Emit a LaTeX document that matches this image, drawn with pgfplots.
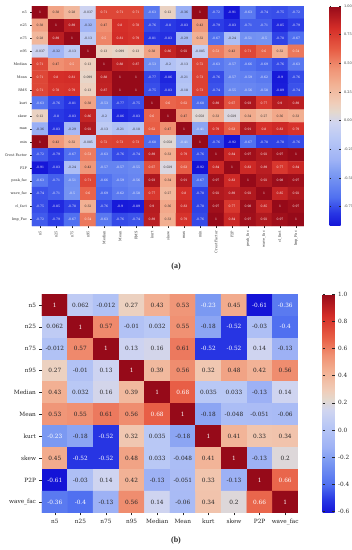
\documentclass[border=0pt]{standalone}
\usepackage{pgfplots}
\pgfplotsset{compat=1.18}
\usepackage{fontspec}
\setmainfont{DejaVu Serif}
\newfontfamily\capfont{Liberation Serif}
\definecolor{darktxt}{HTML}{262626}
\pgfplotsset{
  /pgf/number format/assume math mode=true,
  colormap={cw}{rgb255(0pt)=(20,20,215); rgb255(6pt)=(40,55,228); rgb255(13pt)=(80,112,240); rgb255(24pt)=(125,155,242); rgb255(30pt)=(158,178,245); rgb255(40pt)=(185,200,245); rgb255(47pt)=(208,213,240); rgb255(52pt)=(228,216,205); rgb255(56pt)=(240,205,185); rgb255(65pt)=(242,175,145); rgb255(72pt)=(240,145,115); rgb255(80pt)=(232,95,70); rgb255(90pt)=(212,45,40); rgb255(100pt)=(150,10,25)},
}
\begin{document}
\begin{tikzpicture}
\useasboundingbox (0,0) rectangle (352pt,550pt);
% ---------------- (a) ----------------
\begin{axis}[
  at={(32pt,544pt)}, anchor=north west, scale only axis,
  width=272pt, height=220pt,
  xmin=-0.5, xmax=16.5, ymin=-0.5, ymax=16.5, y dir=reverse,
  xtick={0,...,16}, ytick={0,...,16},
  xticklabels={n5,n25,n75,n95,Median,Mean,RMS,kurt,skew,max,min,Crest Factor,P2P,peak\_fac,wave\_fac,cl\_fact,Imp\_Fac},
  yticklabels={n5,n25,n75,n95,Median,Mean,RMS,kurt,skew,max,min,Crest Factor,P2P,peak\_fac,wave\_fac,cl\_fact,Imp\_Fac},
  axis line style={draw=none}, tick align=outside, tick pos=left,
  major tick length=1.5pt, tick style={darktxt, line width=0.3pt},
  ticklabel style={font=\fontsize{3.5}{4}\selectfont, text=darktxt},
  x tick label style={rotate=90, anchor=east},
  colormap name=cw, point meta min=-0.92, point meta max=1,
  colorbar,
  colorbar style={at={(parent axis.north east)}, anchor=north west, xshift=17pt, width=11pt,
    ytick={-0.75,-0.5,-0.25,0,0.25,0.5,0.75,1},
    axis line style={draw=none}, major tick length=1.5pt, tick style={darktxt, line width=0.3pt},
    yticklabel style={font=\fontsize{3.5}{4}\selectfont, text=darktxt, /pgf/number format/.cd, fixed, fixed zerofill, precision=2}},
]
\addplot[matrix plot*, mesh/cols=17, point meta=explicit,
  visualization depends on={value \thisrow{c} \as \cval},
  nodes near coords={\ifdim\cval pt>0.48pt\color{white}\else\ifdim\cval pt<-0.405pt\color{white}\else\color{darktxt}\fi\fi\pgfmathprintnumber[fixed,precision=3]{\cval}},
  every node near coord/.append style={anchor=center, inner sep=0pt, font=\fontsize{3.1}{4}\selectfont},
] table[row sep=\\, x expr={\coordindex-17*floor((\coordindex+0.5)/17)}, y expr={floor((\coordindex+0.5)/17)}, meta=c]{
c\\
1\\0.38\\0.28\\-0.037\\0.71\\0.71\\0.71\\-0.63\\0.12\\-0.36\\1\\-0.72\\-0.91\\-0.63\\-0.74\\-0.75\\-0.72\\
0.38\\1\\0.89\\-0.32\\0.47\\0.8\\0.78\\-0.76\\-0.8\\-0.83\\0.43\\-0.79\\-0.83\\-0.71\\-0.71\\-0.85\\-0.79\\
0.28\\0.89\\1\\-0.13\\0.5\\0.81\\0.79\\-0.81\\-0.83\\-0.29\\0.32\\-0.67\\-0.24\\-0.51\\-0.5\\-0.78\\-0.67\\
-0.037\\-0.32\\-0.13\\1\\0.13\\0.099\\0.13\\0.38\\0.86\\0.92\\-0.085\\0.53\\0.43\\0.71\\0.6\\0.32\\0.54\\
0.71\\0.47\\0.5\\0.13\\1\\0.88\\0.87\\-0.53\\-0.2\\-0.13\\0.72\\-0.63\\-0.57\\-0.66\\-0.69\\-0.76\\-0.63\\
0.71\\0.8\\0.81\\0.099\\0.88\\1\\1\\-0.77\\-0.86\\-0.21\\0.73\\-0.76\\-0.57\\-0.59\\-0.62\\-0.9\\-0.76\\
0.71\\0.78\\0.79\\0.13\\0.87\\1\\1\\-0.75\\-0.83\\-0.18\\0.73\\-0.74\\-0.55\\-0.56\\-0.58\\-0.89\\-0.74\\
-0.63\\-0.76\\-0.81\\0.38\\-0.53\\-0.77\\-0.75\\1\\0.6\\0.62\\-0.68\\0.89\\0.67\\0.93\\0.77\\0.9\\0.89\\
0.12\\-0.8\\-0.83\\0.86\\-0.2\\-0.86\\-0.83\\0.6\\1\\0.47\\0.058\\0.33\\0.029\\0.34\\0.27\\0.36\\0.33\\
-0.36\\-0.83\\-0.29\\0.92\\-0.13\\-0.21\\-0.18\\0.62\\0.47\\1\\-0.41\\0.79\\0.63\\0.91\\0.8\\0.83\\0.79\\
1\\0.43\\0.32\\-0.085\\0.72\\0.73\\0.73\\-0.68\\0.058\\-0.41\\1\\-0.76\\-0.92\\-0.67\\-0.78\\-0.78\\-0.76\\
-0.72\\-0.79\\-0.67\\0.53\\-0.63\\-0.76\\-0.74\\0.89\\0.33\\0.79\\-0.76\\1\\0.84\\0.97\\0.92\\0.97\\1\\
-0.91\\-0.83\\-0.24\\0.43\\-0.57\\-0.57\\-0.55\\0.67\\0.029\\0.63\\-0.92\\0.84\\1\\0.83\\0.89\\0.77\\0.84\\
-0.63\\-0.71\\-0.51\\0.71\\-0.66\\-0.59\\-0.56\\0.93\\0.34\\0.91\\-0.67\\0.97\\0.83\\1\\0.92\\0.98\\0.97\\
-0.74\\-0.71\\-0.5\\0.6\\-0.69\\-0.62\\-0.58\\0.77\\0.27\\0.8\\-0.78\\0.92\\0.89\\0.92\\1\\0.85\\0.92\\
-0.75\\-0.85\\-0.78\\0.32\\-0.76\\-0.9\\-0.89\\0.9\\0.36\\0.83\\-0.78\\0.97\\0.77\\0.98\\0.85\\1\\0.97\\
-0.72\\-0.79\\-0.67\\0.54\\-0.63\\-0.76\\-0.74\\0.89\\0.33\\0.79\\-0.76\\1\\0.84\\0.97\\0.92\\0.97\\1\\
};
\end{axis}
% ---------------- (b) ----------------
\begin{axis}[
  at={(42pt,256pt)}, anchor=north west, scale only axis,
  width=256pt, height=219pt,
  xmin=-0.5, xmax=9.5, ymin=-0.5, ymax=9.5, y dir=reverse,
  xtick={0,...,9}, ytick={0,...,9},
  xticklabels={n5,n25,n75,n95,Median,Mean,kurt,skew,P2P,wave\_fac},
  yticklabels={n5,n25,n75,n95,Median,Mean,kurt,skew,P2P,wave\_fac},
  axis line style={draw=none}, tick align=outside, tick pos=left,
  major tick length=2.5pt, tick style={darktxt, line width=0.4pt},
  ticklabel style={font=\fontsize{5.8}{7}\selectfont, text=darktxt},
  colormap name=cw, point meta min=-0.61, point meta max=1,
  colorbar,
  colorbar style={at={(parent axis.north east)}, anchor=north west, xshift=16pt, width=12pt,
    ytick={-0.6,-0.4,-0.2,0,0.2,0.4,0.6,0.8,1},
    axis line style={draw=none}, major tick length=2.5pt, tick style={darktxt, line width=0.4pt},
    yticklabel style={font=\fontsize{5.8}{7}\selectfont, text=darktxt, /pgf/number format/.cd, fixed, fixed zerofill, precision=1}},
]
\addplot[matrix plot*, mesh/cols=10, point meta=explicit,
  visualization depends on={value \thisrow{c} \as \cval},
  nodes near coords={\ifdim\cval pt>0.64pt\color{white}\else\ifdim\cval pt<-0.2pt\color{white}\else\color{darktxt}\fi\fi\pgfmathprintnumber[fixed,precision=3]{\cval}},
  every node near coord/.append style={anchor=center, inner sep=0pt, font=\fontsize{5.8}{7}\selectfont},
] table[row sep=\\, x expr={\coordindex-10*floor((\coordindex+0.5)/10)}, y expr={floor((\coordindex+0.5)/10)}, meta=c]{
c\\
1\\0.062\\-0.012\\0.27\\0.43\\0.53\\-0.23\\0.45\\-0.61\\-0.36\\
0.062\\1\\0.57\\-0.01\\0.032\\0.55\\-0.18\\-0.52\\-0.03\\-0.4\\
-0.012\\0.57\\1\\0.13\\0.16\\0.61\\-0.52\\-0.52\\0.14\\-0.13\\
0.27\\-0.01\\0.13\\1\\0.39\\0.56\\0.32\\0.48\\0.42\\0.56\\
0.43\\0.032\\0.16\\0.39\\1\\0.68\\0.035\\0.033\\-0.13\\0.14\\
0.53\\0.55\\0.61\\0.56\\0.68\\1\\-0.18\\-0.048\\-0.051\\-0.06\\
-0.23\\-0.18\\-0.52\\0.32\\0.035\\-0.18\\1\\0.41\\0.33\\0.34\\
0.45\\-0.52\\-0.52\\0.48\\0.033\\-0.048\\0.41\\1\\-0.13\\0.2\\
-0.61\\-0.03\\0.14\\0.42\\-0.13\\-0.051\\0.33\\-0.13\\1\\0.66\\
-0.36\\-0.4\\-0.13\\0.56\\0.14\\-0.06\\0.34\\0.2\\0.66\\1\\
};
\end{axis}
\node[font=\capfont\bfseries\fontsize{8}{9}\selectfont, text=darktxt] at (176pt,283pt) {(a)};
\node[font=\capfont\bfseries\fontsize{8}{9}\selectfont, text=darktxt] at (176pt,9pt) {(b)};
\end{tikzpicture}
\end{document}
